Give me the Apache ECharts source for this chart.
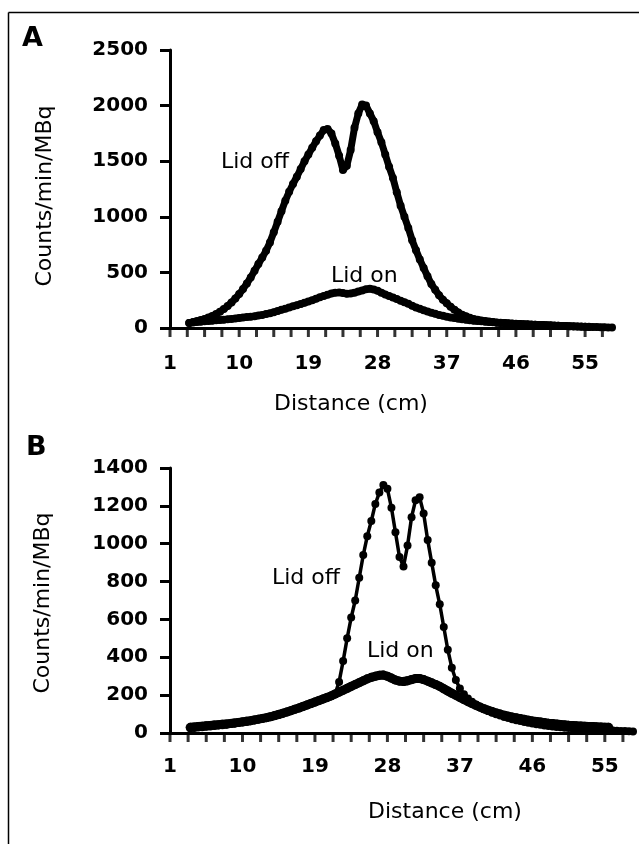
<!DOCTYPE html>
<html>
<head>
<meta charset="utf-8">
<script src="https://cdn.jsdelivr.net/npm/echarts@6.0.0/dist/echarts.min.js"></script>
<style>
  html, body { margin: 0; padding: 0; background: #fff; }
  #main { width: 639px; height: 844px; }
</style>
</head>
<body>
<div id="main"></div>
<script>
// distance (cm) of each sample
var distances = [3.5, 4, 4.5, 5, 5.5, 6, 6.5, 7, 7.5, 8, 8.5, 9, 9.5, 10, 10.5, 11, 11.5, 12, 12.5, 13,
    13.5, 14, 14.5, 15, 15.5, 16, 16.5, 17, 17.5, 18, 18.5, 19, 19.5, 20, 20.5, 21, 21.5, 22, 22.5, 23,
    23.5, 24, 24.5, 25, 25.5, 26, 26.5, 27, 27.5, 28, 28.5, 29, 29.5, 30, 30.5, 31, 31.5, 32, 32.5, 33,
    33.5, 34, 34.5, 35, 35.5, 36, 36.5, 37, 37.5, 38, 38.5, 39, 39.5, 40, 40.5, 41, 41.5, 42, 42.5, 43,
    43.5, 44, 44.5, 45, 45.5, 46, 46.5, 47, 47.5, 48, 48.5, 49, 49.5, 50, 50.5, 51, 51.5, 52, 52.5, 53,
    53.5, 54, 54.5, 55, 55.5, 56, 56.5, 57, 57.5, 58, 58.5];

// panel A
var aLidOff = [45, 55, 62, 72, 82, 95, 108, 125, 147, 170, 198, 230, 265, 305, 350, 400, 455, 515, 575, 635,
    695, 770, 860, 955, 1050, 1145, 1225, 1295, 1360, 1430, 1500, 1560, 1620, 1680, 1730, 1780, 1790, 1750, 1660, 1550,
    1420, 1460, 1600, 1800, 1930, 2010, 2000, 1930, 1860, 1760, 1670, 1560, 1450, 1350, 1220, 1100, 1000, 900, 790, 700,
    615, 540, 465, 395, 345, 295, 255, 222, 192, 165, 140, 120, 105, 92, 82, 74, 68, 63, 58, 54,
    50, 47, 44, 41, 39, 37, 35, 33, 32, 30, 29, 27, 26, 24, 23, 21, 20, 18, 17, 15,
    14, 13, 12, 11, 10, 9, 8, 7, 6, 5, 4];
var aLidOn = [45, 50, 54, 57, 60, 63, 66, 69, 72, 75, 78, 82, 86, 90, 94, 98, 102, 106, 112, 118,
    125, 132, 142, 152, 163, 173, 184, 195, 205, 215, 226, 238, 250, 263, 276, 288, 300, 310, 318, 320,
    314, 308, 310, 318, 328, 338, 348, 352, 346, 335, 318, 302, 288, 274, 260, 246, 232, 218, 200, 185,
    172, 160, 148, 138, 128, 118, 110, 102, 95, 89, 84, 79, 74, 70, 66, 63, 60, 57, 54, 51,
    48, 46, 44, 42, 40, 38, 36, 34, 33, 31, 30, 28, 27, 25, 24, 22, 21, 19, 18, 16,
    15, 14, 13, 12, 11];

// panel B
var bLidOff = [25, 27, 29, 31, 33, 35, 37, 39, 41, 44, 47, 50, 53, 56, 60, 64, 68, 72, 76, 80,
    85, 91, 97, 104, 111, 118, 125, 132, 140, 148, 155, 162, 170, 178, 186, 194, 205, 270, 380, 500,
    610, 700, 820, 940, 1040, 1120, 1210, 1270, 1310, 1290, 1190, 1060, 930, 880, 990, 1140, 1230, 1245, 1160, 1020,
    900, 780, 680, 560, 440, 345, 280, 235, 205, 182, 165, 150, 138, 126, 116, 107, 99, 92, 85, 79,
    73, 68, 63, 58, 54, 50, 46, 43, 40, 37, 34, 32, 30, 28, 26, 24, 23, 22, 21, 20,
    19, 18, 17, 16, 15, 13, 12, 11, 10, 9, 8];
var bLidOn = [30, 32, 34, 36, 38, 40, 42, 44, 46, 48, 50, 53, 56, 59, 62, 65, 69, 73, 77, 81,
    86, 92, 98, 104, 111, 118, 125, 132, 140, 148, 156, 164, 172, 180, 188, 196, 206, 216, 226, 236,
    246, 256, 266, 276, 286, 294, 300, 305, 306, 300, 290, 280, 274, 272, 276, 282, 288, 288, 282, 274,
    265, 256, 246, 234, 222, 210, 199, 188, 177, 166, 156, 146, 137, 128, 120, 113, 106, 100, 94, 89,
    84, 80, 76, 72, 68, 64, 61, 58, 55, 52, 50, 47, 45, 43, 41, 40, 38, 37, 36, 35,
    34, 33, 32, 31, 30];

var xLabels = [1, 10, 19, 28, 37, 46, 55];
var xTicks = [1, 3.25, 5.5, 7.75, 10, 12.25, 14.5, 16.75, 19, 21.25, 23.5, 25.75, 28,
    30.25, 32.5, 34.75, 37, 39.25, 41.5, 43.75, 46, 48.25, 50.5, 52.75, 55, 57.25];
var aYMax = 2500, aYStep = 500;
var bYMax = 1400, bYStep = 200;

var toPairs = function (values) {
    return values.map(function (v, i) {
        return [distances[i], v];
    });
};

var boldFont = 'DejaVu Sans';

var makeX = function (idx, margin) {
    return {
        type: 'value',
        gridIndex: idx,
        min: 1,
        max: 58.5,
        axisLine: { show: true, onZero: false, lineStyle: { color: '#000', width: 3 } },
        axisTick: { show: false },
        axisLabel: {
            customValues: xLabels, margin: margin, color: '#000',
            fontFamily: boldFont, fontWeight: 'bold', fontSize: 20
        },
        splitLine: { show: false }
    };
};

var makeY = function (idx, max, step) {
    return {
        type: 'value',
        gridIndex: idx,
        min: 0,
        max: max,
        interval: step,
        axisLine: { show: true, lineStyle: { color: '#000', width: 3 } },
        axisTick: { show: true, length: 10, lineStyle: { color: '#000', width: 3 } },
        axisLabel: {
            margin: 22, color: '#000', fontFamily: boldFont, fontWeight: 'bold', fontSize: 20,
            formatter: function (v) { return String(v); }
        },
        splitLine: { show: false }
    };
};

var makeSeries = function (idx, values, width, size) {
    return {
        type: 'line',
        xAxisIndex: idx,
        yAxisIndex: idx,
        data: toPairs(values),
        symbol: 'circle',
        symbolSize: size,
        showAllSymbol: true,
        itemStyle: { color: '#000' },
        lineStyle: { color: '#000', width: width },
        z: 3,
        animation: false
    };
};

// x ticks drawn as small bars hanging below the axis line
var tickSeries = function (idx) {
    return {
        type: 'scatter',
        xAxisIndex: idx,
        yAxisIndex: idx,
        data: xTicks.map(function (t) { return [t, 0]; }),
        symbol: 'rect',
        symbolSize: [3, 8],
        symbolOffset: [0, 5],
        itemStyle: { color: '#000' },
        clip: false,
        silent: true,
        z: 1,
        animation: false
    };
};

var plainText = function (text, x, y, size, weight, rotation) {
    return {
        type: 'text',
        x: x,
        y: y,
        rotation: rotation || 0,
        style: {
            text: text,
            fill: '#000',
            font: (weight || 'normal') + ' ' + size + 'px "DejaVu Sans"',
            textAlign: rotation ? 'center' : 'left',
            textVerticalAlign: 'middle'
        }
    };
};

var titleX = function (x, y) {
    var t = plainText('Distance (cm)', x, y, 22);
    t.style.textAlign = 'center';
    return t;
};

var chart = echarts.init(document.getElementById('main'));
chart.setOption({
    backgroundColor: '#fff',
    animation: false,
    grid: [
        { left: 170, top: 50, width: 442, height: 278 },
        { left: 170, top: 468, width: 463, height: 265 }
    ],
    xAxis: [makeX(0, 26), makeX(1, 24)],
    yAxis: [makeY(0, aYMax, aYStep), makeY(1, bYMax, bYStep)],
    series: [
        tickSeries(0),
        tickSeries(1),
        makeSeries(0, aLidOn, 7, 8),
        makeSeries(0, aLidOff, 7, 8),
        makeSeries(1, bLidOn, 9, 9),
        makeSeries(1, bLidOff, 3.5, 8)
    ],
    graphic: [
        // frame
        { type: 'line', shape: { x1: 8.5, y1: 12.5, x2: 639, y2: 12.5 }, style: { stroke: '#000', lineWidth: 1.5 } },
        { type: 'line', shape: { x1: 8.5, y1: 12.5, x2: 8.5, y2: 844 }, style: { stroke: '#000', lineWidth: 1.5 } },
        plainText('A', 22, 39, 27, 'bold'),
        plainText('B', 26, 448, 27, 'bold'),
        plainText('Counts/min/MBq', 45, 196, 22, 'normal', Math.PI / 2),
        plainText('Counts/min/MBq', 43, 603, 22, 'normal', Math.PI / 2),
        titleX(351, 404),
        titleX(445, 812),
        plainText('Lid off', 221, 162, 22),
        plainText('Lid on', 331, 276, 22),
        plainText('Lid off', 272, 578, 22),
        plainText('Lid on', 367, 651, 22)
    ]
});
</script>
</body>
</html>
